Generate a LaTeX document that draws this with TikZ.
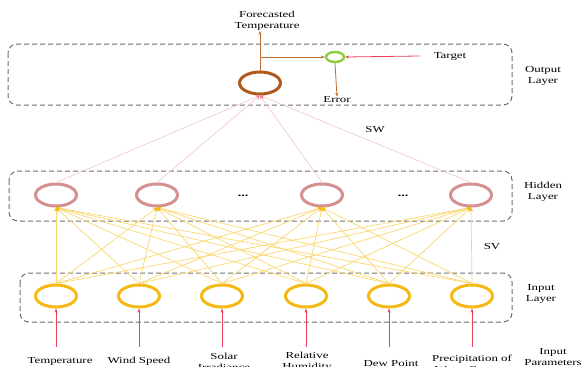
\documentclass[tikz,border=0pt]{standalone}
\usepackage{fontspec}
\setmainfont{Liberation Serif}[FakeStretch=1.4]
\usetikzlibrary{shapes.geometric}
\usetikzlibrary{arrows.meta}
\definecolor{inc}{RGB}{245,185,20}
\definecolor{hidc}{RGB}{212,145,145}
\definecolor{outc}{RGB}{175,90,30}
\definecolor{grnc}{RGB}{140,205,60}
\definecolor{redc}{RGB}{235,60,90}
\definecolor{ylc}{RGB}{250,215,110}
\definecolor{plc}{RGB}{242,195,195}
\definecolor{brc}{RGB}{190,110,50}
\definecolor{boxc}{RGB}{110,110,110}
\tikzstyle{unit}=[draw, ellipse, line width=3pt, minimum width=41pt, minimum height=22pt, inner sep=0pt]
\tikzstyle{inunit}=[unit, draw=inc]
\tikzstyle{hidunit}=[unit, draw=hidc]
\tikzstyle{outunit}=[unit, draw=outc]
\tikzstyle{errunit}=[draw=grnc, ellipse, line width=2.4pt, minimum width=18pt, minimum height=10pt, inner sep=0pt]
\tikzstyle{layer}=[draw=boxc, dash pattern=on 5pt off 3pt, rounded corners=9pt, line width=1pt]
\tikzstyle{txt}=[font=\fontsize{9.2}{11}\selectfont, align=center, inner sep=0pt, text=black]
\tikzstyle{svline}=[draw=ylc, line width=0.7pt, -{Stealth[length=4pt, width=4pt, color=inc]}]
\tikzstyle{swline}=[draw=plc, line width=0.6pt, -{Stealth[length=4pt, width=4pt, color=redc!60]}]
\tikzstyle{redarrow}=[draw=redc, line width=0.8pt, -{Stealth[length=4pt, width=3pt]}]
\tikzstyle{brarrow}=[draw=brc, line width=0.8pt, -{Stealth[length=4pt, width=3pt]}]

\begin{document}
\begin{tikzpicture}[x=1pt, y=-1pt]
        \useasboundingbox (0,0) rectangle (584,367);
        \draw[layer] (8,44) rectangle (512,105);
        \draw[layer] (9,171) rectangle (512,221);
        \draw[layer] (20,273) rectangle (512,322);
        \foreach \i/\x in {1/56,2/139,3/222,4/306,5/389,6/472}
            \node[inunit] (I\i) at (\x,296) {};
        \node[hidunit] (H1) at (56,195) {};
        \node[hidunit] (H2) at (157,195) {};
        \node[hidunit] (H3) at (322,195) {};
        \node[hidunit] (H4) at (471,195) {};
        \node[txt, font=\bfseries] (dots1) at (243,196) {...};
        \node[txt, font=\bfseries] (dots2) at (403,196) {...};
        \node[outunit] (O) at (260,83) {};
        \node[errunit] (E) at (335,57) {};
        \foreach \h in {1,...,4}
            \foreach \i in {1,...,6}
                \draw[svline] (I\i.north) -- (H\h.south);
        \foreach \h in {1,...,4}
            \draw[swline] (H\h.north) -- (O.south);
        \node[txt] (fcst) at (267,21) {Forecasted\\Temperature};
        \node[txt] (tgt) at (450,56) {Target};
        \node[txt] (err) at (337,100) {Error};
        \draw[brarrow] (O.north) -- (O.north |- fcst.south);
        \draw[brarrow] (O.north |- E.west) -- (E.west);
        \draw[brarrow] (E.south) -- (err.north);
        \draw[redarrow] ([xshift=-14pt]tgt.west) -- (E.east);
        \node[txt] (sw) at (375,130) {SW};
        \node[txt] (sv) at (492,247) {SV};
        \node[txt] (outl) at (543,76) {Output\\Layer};
        \node[txt] (hidl) at (543,192) {Hidden\\Layer};
        \node[txt] (inl) at (541,294) {Input\\Layer};
        \node[txt] (parl) at (553,357) {Input\\Parameters};
        \node[txt] (t1) at (60,361) {Temperature};
        \node[txt] (t2) at (139,361) {Wind Speed};
        \node[txt] (t3) at (224,362) {Solar\\Irradiance};
        \node[txt] (t4) at (307,362) {Relative\\Humidity};
        \node[txt] (t5) at (391,363) {Dew Point};
        \node[txt] (t6) at (472,364) {Precipitation of\\Water Content};
        \foreach \i/\x in {1/56,2/139,3/222,4/306,5/389,6/472}
            \coordinate (p\i) at (\x,347);
        \foreach \i in {1,...,6}
            \draw[redarrow] (p\i) -- (I\i.south);
    \end{tikzpicture}
\end{document}
